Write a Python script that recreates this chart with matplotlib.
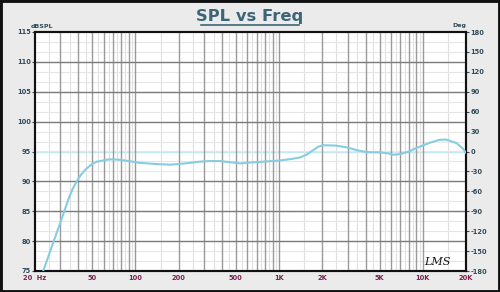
import numpy as np
import matplotlib
matplotlib.use("Agg")
import matplotlib.pyplot as plt
from matplotlib.lines import Line2D
from matplotlib.patches import Rectangle

# ---- data ----
freq_hz = [20.5, 22.8, 25.0, 27.0, 29.5, 32.0, 34.0, 36.5, 39.0, 41.5, 44.6, 47.5,
           50.6, 54.0, 58.0, 64.0, 70.0, 78.0, 87.0, 107.0, 140.0, 174.0,
           200.0, 240.0, 280.0, 330.0, 388.0, 460.0, 536.0, 626.0,
           780.0, 962.0, 1180.0, 1397.0, 1560.0, 1722.0, 1870.0, 2020.0, 2450.0,
           2952.0, 3500.0, 4066.0, 5036.0, 5700.0, 6225.0, 6920.0, 8000.0, 9066.0,
           11000.0, 13000.0, 14500.0, 17200.0, 19000.0, 20000.0]
spl_db = [71.9, 75.0, 77.7, 80.0, 82.6, 85.0, 86.9, 88.7, 90.0, 91.0, 91.9, 92.5,
          93.0, 93.3, 93.45, 93.65, 93.7, 93.6, 93.45, 93.1, 92.9, 92.8,
          92.9, 93.1, 93.3, 93.4, 93.4, 93.2, 93.0, 93.15,
          93.3, 93.45, 93.7, 94.0, 94.5, 95.2, 95.8, 96.05, 96.0,
          95.7, 95.2, 94.9, 94.85, 94.7, 94.45, 94.55, 95.0, 95.6,
          96.4, 96.95, 97.0, 96.4, 95.5, 94.8]
phase_deg = [0.0, 0.0]
phase_freq = [20.0, 20000.0]

spl_ticks = [75, 80, 85, 90, 95, 100, 105, 110, 115]
deg_ticks = [180, 150, 120, 90, 60, 30, 0, -30, -60, -90, -120, -150, -180]
freq_ticks = [20, 50, 100, 200, 500, 1000, 2000, 5000, 10000, 20000]
freq_labels = ["20  Hz", "50", "100", "200", "500", "1K", "2K", "5K", "10K", "20K"]

W, H = 500, 292
fig = plt.figure(figsize=(W / 100, H / 100), dpi=100)
fig.patch.set_facecolor("#ebebeb")
fig.add_artist(Rectangle((0, 0), 1, 1, transform=fig.transFigure, fill=False,
                         edgecolor="#111111", linewidth=3.5))

x0, x1 = 35 / W, 466 / W
y0, y1 = (H - 271) / H, (H - 32) / H
ax = fig.add_axes([x0, y0, x1 - x0, y1 - y0])
ax.set_xscale("log")
ax.set_xlim(20, 20000)
ax.set_ylim(75, 115)

for dec in [10, 100, 1000, 10000]:
    for m in range(1, 10):
        f = m * dec
        if 20 < f < 20000:
            ax.axvline(f, color="#9a9a9a", lw=1.0, zorder=1)
        fh = (m + 0.5) * dec
        if 20 < fh < 20000:
            ax.axvline(fh, color="#e0e0e0", lw=0.8, zorder=0.5)
for v in np.arange(75, 115.01, 5):
    if 75 < v < 115 and v != 95:
        ax.axhline(v, color="#7c7c7c", lw=1.0, zorder=1)
for v in np.arange(75, 115, 5 / 3):
    ax.axhline(v, color="#e6e6e6", lw=0.8, zorder=0.5)

ax2 = ax.twinx()
ax2.set_ylim(-180, 180)
ax2.plot(phase_freq, phase_deg, color="#c4e8f3", lw=1.0, zorder=2)

ax.plot(freq_hz, spl_db, color="#86cde2", lw=1.5, zorder=3, clip_on=True,
        solid_joinstyle="round")
ax.set_zorder(ax2.get_zorder() + 1)
ax.patch.set_visible(False)
ax2.patch.set_facecolor("white")
ax2.patch.set_visible(True)

for a in (ax, ax2):
    for s in a.spines.values():
        s.set_color("#111111")
        s.set_linewidth(1.5)

ax.set_yticks(spl_ticks)
ax.set_yticklabels([str(t) for t in spl_ticks])
ax.tick_params(axis="y", labelsize=4.8, colors="#2f4a5a", length=2, pad=1)
ax.set_xticks(freq_ticks)
ax.set_xticklabels(freq_labels)
ax.xaxis.set_minor_locator(matplotlib.ticker.NullLocator())
ax.tick_params(axis="x", labelsize=4.8, labelcolor="#7a2050", length=0, pad=3)
for lab in ax.get_xticklabels() + ax.get_yticklabels():
    lab.set_fontweight("bold")

ax2.set_yticks(deg_ticks)
ax2.set_yticklabels([str(t) for t in deg_ticks])
ax2.tick_params(axis="y", labelsize=4.8, colors="#2f4a5a", length=2, pad=1)
for lab in ax2.get_yticklabels():
    lab.set_fontweight("bold")

fig.text(42 / W, 1 - 26 / H, "dBSPL", fontsize=4.5, color="#2f4a5a",
         fontweight="bold", ha="center", va="center")
fig.text(459 / W, 1 - 26 / H, "Deg", fontsize=4.5, color="#2f4a5a",
         fontweight="bold", ha="center", va="center")

fig.text(0.5, 1 - 16 / H, "SPL vs Freq", fontsize=11.8, color="#3e6577",
         fontweight="bold", ha="center", va="center")
fig.add_artist(Line2D([201 / W, 299 / W], [1 - 24.5 / H, 1 - 24.5 / H],
                      transform=fig.transFigure, color="#3e6577", lw=1.2))

fig.text(437 / W, 1 - 262 / H, "LMS", fontsize=8, color="#111111",
         fontstyle="italic", family="DejaVu Serif", ha="center", va="center")

fig.savefig("out.png", dpi=100, facecolor=fig.get_facecolor())
